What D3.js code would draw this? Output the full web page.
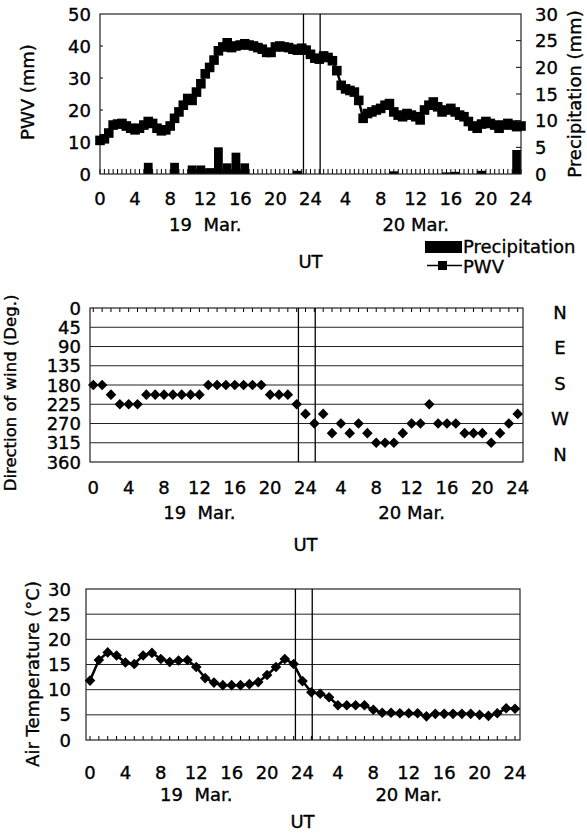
<!DOCTYPE html>
<html>
<head>
<meta charset="utf-8">
<script src="https://cdn.jsdelivr.net/npm/d3@7"></script>
<style>
body { margin: 0; background: #fff; }
text { font-family: "DejaVu Sans", sans-serif; fill: #000; stroke: #000; stroke-width: 0.35; }
</style>
</head>
<body>
<svg id="chart" width="587" height="834"></svg>
<script>
// PWV (mm) every 30 min from 19 Mar 00 UT to 21 Mar 00 UT
var pwv = [10.5, 11, 12.8, 15.3, 15.6, 15.8, 15, 14.3, 13.8, 14.3, 15.3, 16.4,
  15.8, 14.3, 13.5, 13.8, 15, 17.4, 19.4, 21.5, 23.6, 23, 25.6, 28.2,
  31.3, 33.3, 35.6, 38.5, 39.7, 41, 39.5, 40, 40.3, 40.7, 40.3, 40,
  39.5, 39, 38, 38, 39.7, 40, 39.7, 39.5, 39, 38.7, 39.3, 38.7,
  37.4, 36.2, 35.9, 36.9, 36.4, 35.4, 32.3, 27.7, 26.6, 26.1, 25.6, 23,
  17.4, 18.9, 19.4, 20, 20.5, 21.5, 22, 19.4, 18.4, 17.9, 18.9, 18.4,
  17.9, 16.9, 20, 21.5, 22.5, 21, 19.4, 20, 20.5, 19.4, 18.4, 17.9,
  16.4, 15, 14.3, 15.6, 16.4, 15.8, 15.3, 14.3, 15.3, 15.8, 15.3, 14.8, 15];
var pwvTimes = d3.range(0, 48.5, 0.5);

// hourly precipitation (mm), hour counted from 19 Mar 00 UT
var precipHours = [5, 8, 10, 11, 12, 13, 14, 15, 16, 22, 33, 39, 40, 43, 47];
var precip = [2.1, 2.1, 1.6, 1.6, 1.1, 5.0, 2.0, 4.0, 2.0, 0.6, 0.5, 0.3, 0.4, 0.6, 4.5];

// hourly wind direction (deg) and air temperature (C), 0..48 h
var windDir = [180, 180, 202.5, 225, 225, 225, 202.5, 202.5, 202.5, 202.5, 202.5, 202.5,
  202.5, 180, 180, 180, 180, 180, 180, 180, 202.5, 202.5, 202.5, 225,
  247.5, 270, 247.5, 292.5, 270, 292.5, 270, 292.5, 315, 315, 315, 292.5,
  270, 270, 225, 270, 270, 270, 292.5, 292.5, 292.5, 315, 292.5, 270, 247.5];
var airTemp = [11.8, 15.9, 17.4, 16.8, 15.4, 15.1, 16.8, 17.3, 16.1, 15.5, 15.8, 15.9,
  14.5, 12.3, 11.4, 10.9, 10.9, 10.9, 11.1, 11.5, 12.9, 14.5, 16.1, 15.1,
  11.7, 9.5, 9.2, 8.5, 6.9, 6.9, 6.9, 6.9, 6.0, 5.4, 5.4, 5.3,
  5.3, 5.3, 4.7, 5.2, 5.2, 5.2, 5.2, 5.2, 5.0, 4.8, 5.3, 6.3, 6.2];
var hours = d3.range(0, 49);

var tickHours = [0, 4, 8, 12, 16, 20, 24, 28, 32, 36, 40, 44, 48];
var tickLabels = ["0", "4", "8", "12", "16", "20", "24", "4", "8", "12", "16", "20", "24"];
var dayNames = ["19  Mar.", "20 Mar."];
var dayHours = [12, 36];
var eventHours = [23.2, 25.1];
var compassNames = ["N", "E", "S", "W", "N"];
var compassDeg = [0, 90, 180, 270, 360];

var svg = d3.select("#chart");

function frame(g, p) {
  g.append("rect")
    .attr("x", p.left).attr("y", p.top)
    .attr("width", p.right - p.left).attr("height", p.bottom - p.top)
    .attr("fill", "none").attr("stroke", "#222").attr("stroke-width", 1.2);
}

function eventLines(g, p, x) {
  g.selectAll(".ev").data(eventHours).enter().append("line")
    .attr("x1", d => x(d)).attr("x2", d => x(d))
    .attr("y1", p.top).attr("y2", p.bottom)
    .attr("stroke", "#000").attr("stroke-width", 1.3);
}

function xLabels(g, x, base) {
  g.selectAll(".xl").data(tickHours).enter().append("text")
    .attr("x", d => x(d)).attr("y", base[0])
    .attr("text-anchor", "middle").attr("font-size", 18)
    .text((d, i) => tickLabels[i]);
  g.selectAll(".dl").data(dayHours).enter().append("text")
    .attr("x", d => x(d)).attr("y", base[1])
    .attr("text-anchor", "middle").attr("font-size", 18)
    .style("white-space", "pre")
    .text((d, i) => dayNames[i]);
  g.append("text")
    .attr("x", x(24)).attr("y", base[2])
    .attr("text-anchor", "middle").attr("font-size", 18)
    .text("UT");
}

function diamond(r) {
  return "M0," + (-r) + "L" + r + ",0L0," + r + "L" + (-r) + ",0Z";
}

// ---------- panel 1: PWV and precipitation ----------
var p1 = { left: 100, right: 521, top: 14, bottom: 174 };
var g1 = svg.append("g");
var x1 = d3.scaleLinear().domain([0, 48]).range([100, 521]);
var y1 = d3.scaleLinear().domain([0, 50]).range([p1.bottom, p1.top]);
var y1r = d3.scaleLinear().domain([0, 30]).range([p1.bottom, p1.top]);

g1.selectAll(".bar").data(precip).enter().append("rect")
  .attr("x", (d, i) => x1(precipHours[i]))
  .attr("width", x1(1) - x1(0))
  .attr("y", d => y1r(d))
  .attr("height", d => y1r(0) - y1r(d))
  .attr("fill", "#000");

// half-hour ticks along the bottom
g1.selectAll(".tk").data(pwvTimes).enter().append("line")
  .attr("x1", d => x1(d)).attr("x2", d => x1(d))
  .attr("y1", p1.bottom).attr("y2", p1.bottom - 5)
  .attr("stroke", "#000").attr("stroke-width", 1);

g1.selectAll(".lt").data([10, 20, 30, 40]).enter().append("line")
  .attr("x1", p1.left).attr("x2", p1.left + 3)
  .attr("y1", d => y1(d)).attr("y2", d => y1(d))
  .attr("stroke", "#000");
g1.selectAll(".rt").data([5, 10, 15, 20, 25]).enter().append("line")
  .attr("x1", p1.right).attr("x2", p1.right - 5)
  .attr("y1", d => y1r(d)).attr("y2", d => y1r(d))
  .attr("stroke", "#000");

frame(g1, p1);

g1.append("path").datum(pwv)
  .attr("fill", "none").attr("stroke", "#000").attr("stroke-width", 2.5)
  .attr("d", d3.line().x((d, i) => x1(pwvTimes[i])).y(d => y1(d)));
g1.selectAll(".sq").data(pwv).enter().append("rect")
  .attr("x", (d, i) => x1(pwvTimes[i]) - 4.8)
  .attr("y", d => y1(d) - 4.8)
  .attr("width", 9.6).attr("height", 9.6)
  .attr("fill", "#000");

eventLines(g1, p1, x1);

g1.selectAll(".yl").data(d3.range(0, 51, 10)).enter().append("text")
  .attr("x", 91).attr("y", d => y1(d) + 6.5)
  .attr("text-anchor", "end").attr("font-size", 18)
  .text(d => d);
g1.selectAll(".yr").data(d3.range(0, 31, 5)).enter().append("text")
  .attr("x", 535).attr("y", d => y1r(d) + 6.5)
  .attr("font-size", 18)
  .text(d => d);
g1.append("text")
  .attr("transform", "translate(34,92) rotate(-90)")
  .attr("text-anchor", "middle").attr("font-size", 18)
  .text("PWV (mm)");
g1.append("text")
  .attr("transform", "translate(581,94) rotate(-90)")
  .attr("text-anchor", "middle").attr("font-size", 18)
  .text("Precipitation (mm)");

xLabels(g1, x1, [205, 231, 268]);

// legend
g1.append("rect").attr("x", 425).attr("y", 241).attr("width", 37).attr("height", 12).attr("fill", "#000");
g1.append("text").attr("x", 463).attr("y", 253).attr("font-size", 18).text("Precipitation");
g1.append("line").attr("x1", 427).attr("x2", 462).attr("y1", 265.5).attr("y2", 265.5)
  .attr("stroke", "#000").attr("stroke-width", 1.3);
g1.append("rect").attr("x", 438).attr("y", 261).attr("width", 9).attr("height", 9).attr("fill", "#000");
g1.append("text").attr("x", 463).attr("y", 272.5).attr("font-size", 18).text("PWV");

// ---------- panel 2: wind direction ----------
var p2 = { left: 90, right: 523, top: 308, bottom: 462 };
var g2 = svg.append("g");
var x2 = d3.scaleLinear().domain([0, 48]).range([93.3, 517.7]);
var y2 = d3.scaleLinear().domain([0, 360]).range([p2.top, p2.bottom]);

g2.selectAll(".gl").data(d3.range(45, 360, 45)).enter().append("line")
  .attr("x1", p2.left).attr("x2", p2.right)
  .attr("y1", d => y2(d)).attr("y2", d => y2(d))
  .attr("stroke", "#222").attr("stroke-width", 1);
g2.selectAll(".tk").data(hours).enter().append("line")
  .attr("x1", d => x2(d)).attr("x2", d => x2(d))
  .attr("y1", p2.top).attr("y2", p2.top + 4)
  .attr("stroke", "#000");
frame(g2, p2);
eventLines(g2, p2, x2);

g2.selectAll(".pt").data(windDir).enter().append("path")
  .attr("d", diamond(5.3))
  .attr("transform", (d, i) => "translate(" + x2(hours[i]) + "," + y2(d) + ")")
  .attr("fill", "#000");

g2.selectAll(".yl").data(d3.range(0, 361, 45)).enter().append("text")
  .attr("x", 81).attr("y", d => y2(d) + 6.5)
  .attr("text-anchor", "end").attr("font-size", 18)
  .text(d => d);
var yc = d3.scaleLinear().domain([0, 360]).range([312, 454]);
g2.selectAll(".cp").data(compassDeg).enter().append("text")
  .attr("x", 560).attr("y", d => yc(d) + 6.5)
  .attr("text-anchor", "middle").attr("font-size", 18)
  .text((d, i) => compassNames[i]);
g2.append("text")
  .attr("transform", "translate(16,393) rotate(-90)")
  .attr("text-anchor", "middle").attr("font-size", 16.5)
  .text("Direction of wind (Deg.)");

xLabels(g2, x2, [494, 519, 551]);

// ---------- panel 3: air temperature ----------
var p3 = { left: 86, right: 520, top: 589, bottom: 740 };
var g3 = svg.append("g");
var x3 = d3.scaleLinear().domain([0, 48]).range([90, 515]);
var y3 = d3.scaleLinear().domain([0, 30]).range([p3.bottom, p3.top]);

g3.selectAll(".gl").data(d3.range(5, 30, 5)).enter().append("line")
  .attr("x1", p3.left).attr("x2", p3.right)
  .attr("y1", d => y3(d)).attr("y2", d => y3(d))
  .attr("stroke", "#222").attr("stroke-width", 1);
g3.selectAll(".tk").data(hours).enter().append("line")
  .attr("x1", d => x3(d)).attr("x2", d => x3(d))
  .attr("y1", p3.bottom).attr("y2", p3.bottom - 4)
  .attr("stroke", "#000");
frame(g3, p3);
eventLines(g3, p3, x3);

g3.append("path").datum(airTemp)
  .attr("fill", "none").attr("stroke", "#000").attr("stroke-width", 2.5)
  .attr("d", d3.line().x((d, i) => x3(hours[i])).y(d => y3(d)));
g3.selectAll(".pt").data(airTemp).enter().append("path")
  .attr("d", diamond(5.3))
  .attr("transform", (d, i) => "translate(" + x3(hours[i]) + "," + y3(d) + ")")
  .attr("fill", "#000");

g3.selectAll(".yl").data(d3.range(0, 31, 5)).enter().append("text")
  .attr("x", 71).attr("y", d => y3(d) + 6.5)
  .attr("text-anchor", "end").attr("font-size", 18)
  .text(d => d);
g3.append("text")
  .attr("transform", "translate(39,674) rotate(-90)")
  .attr("text-anchor", "middle").attr("font-size", 18)
  .text("Air Temperature (°C)");

xLabels(g3, x3, [779, 801, 828]);
</script>
</body>
</html>
